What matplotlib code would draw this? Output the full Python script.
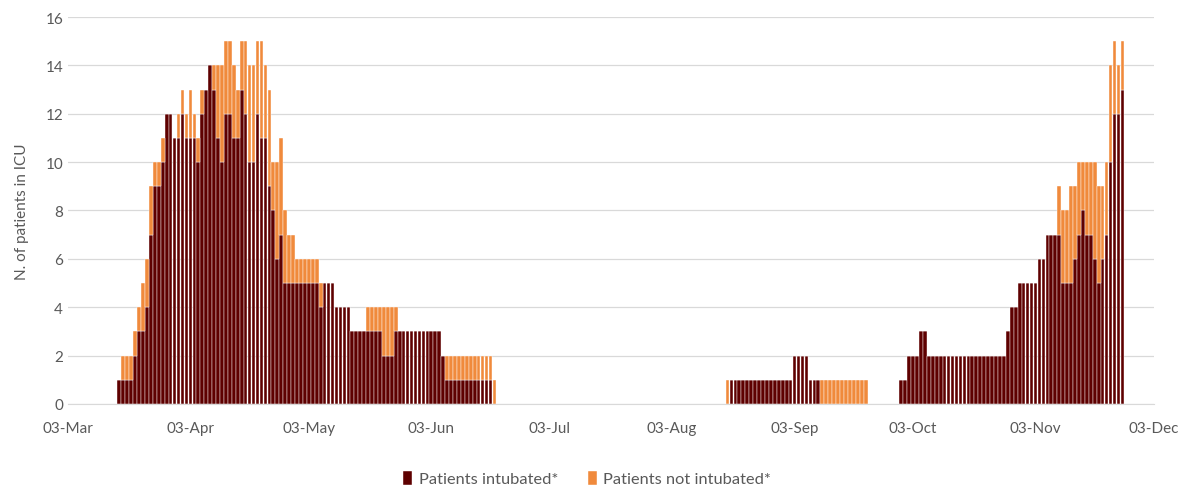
import matplotlib.pyplot as plt
import matplotlib.dates as mdates
import numpy as np
import pandas as pd

# daily ICU counts, three separate runs of days
wave1_start = "2020-03-16"
wave1_intubated = [1, 1, 1, 1, 2, 3, 3, 4, 7, 9, 9, 10,
                   12, 12, 11, 11, 12, 11, 11, 11, 10, 12, 13, 14,
                   13, 11, 10, 12, 12, 11, 11, 13, 12, 10, 10, 12,
                   11, 11, 9, 8, 6, 7, 5, 5, 5,
                   5, 5, 5, 5, 5, 5, 4, 5, 5, 5,
                   4, 4, 4, 4, 3, 3, 3, 3, 3, 3, 3, 3,
                   2, 2, 2, 3, 3, 3, 3, 3, 3, 3, 3, 3, 3, 3, 3, 2,
                   1, 1, 1, 1, 1, 1, 1, 1, 1, 1, 1, 1, 0]
wave1_not_intubated = [0, 1, 1, 1, 1, 1, 2, 2, 2, 1, 1, 1,
                       0, 0, 0, 1, 1, 1, 2, 1, 1, 1, 0, 0,
                       1, 3, 4, 3, 3, 3, 2, 2, 3, 4, 4, 3,
                       4, 3, 4, 2, 4, 4, 3, 2, 2,
                       1, 1, 1, 1, 1, 1, 1, 0, 0, 0,
                       0, 0, 0, 0, 0, 0, 0, 0, 1, 1, 1, 1,
                       2, 2, 2, 1, 0, 0, 0, 0, 0, 0, 0, 0, 0, 0, 0, 0,
                       1, 1, 1, 1, 1, 1, 1, 1, 1, 1, 1, 1, 1]

wave2_start = "2020-08-17"
wave2_intubated = [0, 1, 1, 1, 1, 1, 1, 1, 1, 1, 1, 1, 1, 1, 1, 1, 1,
                   2, 2, 2, 2, 1, 1, 1,
                   0, 0, 0, 0, 0, 0, 0, 0, 0, 0, 0, 0]
wave2_not_intubated = [1, 0, 0, 0, 0, 0, 0, 0, 0, 0, 0, 0, 0, 0, 0, 0, 0,
                       0, 0, 0, 0, 0, 0, 0,
                       1, 1, 1, 1, 1, 1, 1, 1, 1, 1, 1, 1]

wave3_start = "2020-09-30"
wave3_intubated = [1, 1, 2, 2, 2, 3, 3,
                   2, 2, 2, 2, 2, 2, 2, 2, 2, 2, 2, 2, 2, 2, 2, 2, 2, 2, 2, 2,
                   3, 4, 4, 5, 5, 5, 5, 5, 6, 6, 7, 7, 7,
                   7, 5, 5, 5, 6, 7, 8, 7, 7, 6, 5, 6, 7, 10, 12, 12, 13]
wave3_not_intubated = [0, 0, 0, 0, 0, 0, 0,
                       0, 0, 0, 0, 0, 0, 0, 0, 0, 0, 0, 0, 0, 0, 0, 0, 0, 0, 0, 0,
                       0, 0, 0, 0, 0, 0, 0, 0, 0, 0, 0, 0, 0,
                       2, 3, 3, 4, 3, 3, 2, 3, 3, 4, 4, 3, 3, 4, 3, 2, 2]

tick_dates = pd.date_range("2020-03-03", "2020-12-03", freq=pd.DateOffset(months=1))

dates = []
intub = []
not_intub = []
for start, a, b in [(wave1_start, wave1_intubated, wave1_not_intubated),
                    (wave2_start, wave2_intubated, wave2_not_intubated),
                    (wave3_start, wave3_intubated, wave3_not_intubated)]:
    dates.extend(pd.date_range(start, periods=len(a), freq="D"))
    intub.extend(a)
    not_intub.extend(b)
intub = np.array(intub)
not_intub = np.array(not_intub)

plt.rcParams['font.family'] = ['Lato', 'DejaVu Sans']

dark = '#5E0000'
orange = '#F08A3C'
grey = '#595959'

fig = plt.figure(figsize=(11.86, 4.89), dpi=100)
ax = fig.add_axes([0.0573, 0.172, 0.9157, 0.791])

b1 = ax.bar(dates, intub, width=0.92, color=dark, edgecolor='white', linewidth=0.3,
            label='Patients intubated*')
b2 = ax.bar(dates, not_intub, width=0.92, bottom=intub, color=orange, edgecolor='white',
            linewidth=0.3, label='Patients not intubated*')

ax.set_xlim(tick_dates[0], tick_dates[-1])
ax.set_ylim(0, 16)
ax.set_yticks(np.arange(0, 17, 2))
ax.set_xticks(tick_dates)
ax.xaxis.set_major_formatter(mdates.DateFormatter('%d-%b'))
ax.grid(axis='y', color='#D9D9D9', linewidth=0.9)
ax.set_axisbelow(True)
for s in ['top', 'right', 'left']:
    ax.spines[s].set_visible(False)
ax.spines['bottom'].set_color('#D9D9D9')
ax.tick_params(axis='both', length=0, colors=grey, labelsize=11)
ax.tick_params(axis='x', pad=12)
ax.set_ylabel('N. of patients in ICU', color=grey, fontsize=11, labelpad=12)

fig.legend(handles=[b1, b2], loc='lower center', bbox_to_anchor=(0.495, -0.027), ncol=2,
           frameon=False, fontsize=11.8, handlelength=0.55, handleheight=0.9,
           handletextpad=0.4, columnspacing=1.8, labelcolor=grey)

fig.savefig('out.png', dpi=100)
